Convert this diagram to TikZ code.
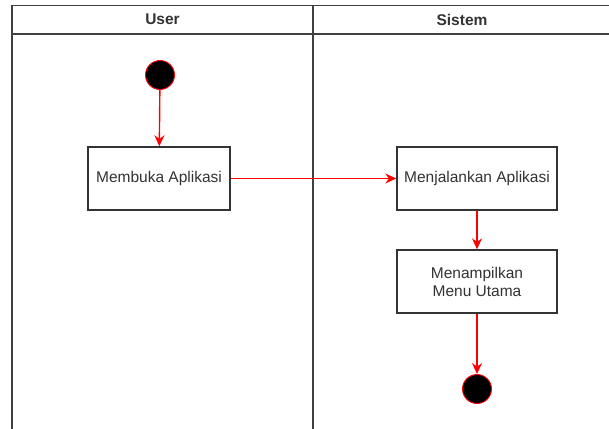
\documentclass[tikz,border=0pt]{standalone}
\usepackage{fontspec}
\setmainfont{Liberation Sans}
\usetikzlibrary{arrows.meta}
\begin{document}
\begin{tikzpicture}[x=1pt,y=-1pt,
  lane/.style={draw=black!75,line width=1.3pt},
  act/.style={draw=black!80,line width=1.4pt,fill=white,minimum width=142pt,minimum height=63pt,align=center,font=\fontsize{15.5}{18}\selectfont,text=black!80,inner sep=2pt},
  actwide/.style={act,minimum width=160pt},
  dot/.style={circle,fill=black,draw=red,line width=0.9pt,minimum size=29pt,inner sep=0pt},
  flow/.style={draw=red,line width=1.4pt,-{Stealth[length=11pt,width=10pt]}},
  hdr/.style={font=\bfseries\fontsize{15.5}{18}\selectfont,text=black!80}]
\useasboundingbox (0,0) rectangle (609,428);
\fill[white] (0,0) rectangle (609,428);
% swimlanes
\draw[lane] (12,431) -- (12,5.5) -- (612,5.5);
\draw[lane] (12,34) -- (612,34);
\draw[lane] (313,5.5) -- (313,431);
\node[hdr] (huser) at (162.5,19.5) {User};
\node[hdr] (hsis) at (462,19.5) {Sistem};
% nodes
\node[dot] (start) at (160,75) {};
\node[act] (buka) at (159,178.5) {Membuka Aplikasi};
\node[actwide] (jalan) at (477,178.5) {Menjalankan Aplikasi};
\node[actwide] (tampil) at (477,281.5) {Menampilkan\\Menu Utama};
\node[dot] (end) at (477,389) {};
% flows
\draw[flow] (start) -- (buka);
\draw[flow] (buka) -- (jalan);
\draw[flow] (jalan) -- (tampil);
\draw[flow] (tampil) -- (end);
\end{tikzpicture}
\end{document}
